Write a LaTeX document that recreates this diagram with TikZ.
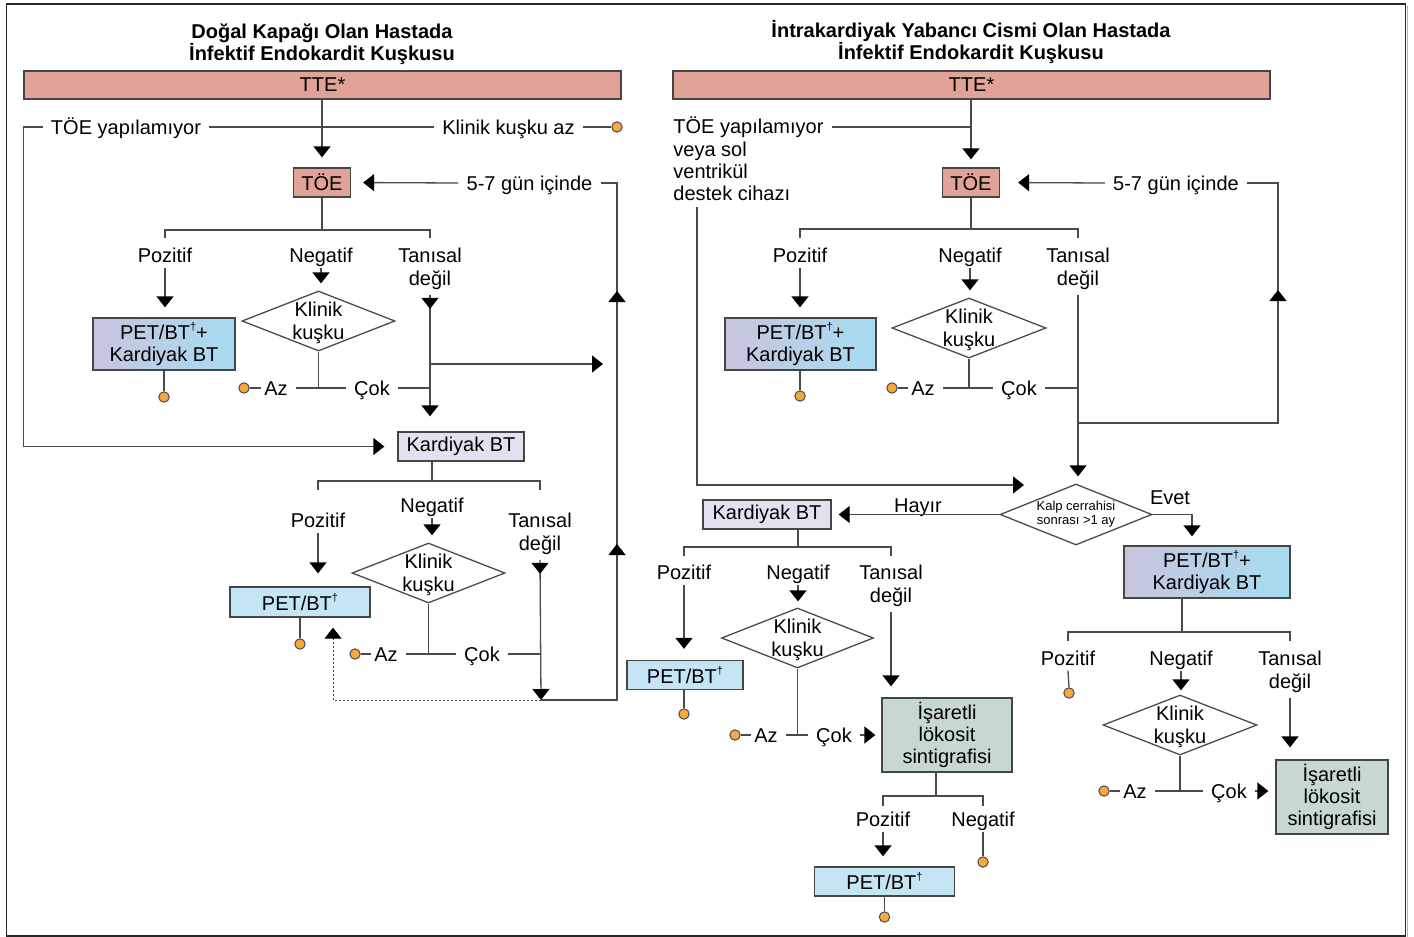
\documentclass[tikz,border=0pt]{standalone}
\usepackage{fontspec}
\setmainfont{Liberation Sans}
\usetikzlibrary{arrows.meta,shapes.geometric,decorations.markings,calc}

\definecolor{salmon}{HTML}{E1A397}
\definecolor{lavg}{HTML}{C8C5DE}
\definecolor{cyang}{HTML}{A6DCF0}
\definecolor{lavl}{HTML}{E5E0F0}
\definecolor{petb}{HTML}{C4E5F4}
\definecolor{sage}{HTML}{C6D8D0}
\definecolor{dotc}{HTML}{F6A83F}
\definecolor{lc}{HTML}{4A4A4A}
\definecolor{bc}{HTML}{454545}

% small raised dagger used in the PET/CT labels
\newcommand{\dagmark}{\raisebox{0.85ex}{\fontsize{5.5}{6}\selectfont †}}

\tikzset{
  ln/.style={draw=lc, line width=0.65pt},
  arr/.style={ln, -{Triangle[width=8.5pt,length=5.5pt,color=black]}},
  darr/.style={draw=lc, line width=0.5pt, dash pattern=on 1pt off 1pt,
    -{Triangle[width=8.5pt,length=5.5pt,color=black]}},
  midarr/.style={postaction={decorate, decoration={markings,
    mark=at position #1 with {\arrow{Triangle[width=8.5pt,length=5.5pt,color=black]}}}}},
  lbl/.style={inner xsep=4pt, inner ysep=2.5pt, text height=7.3pt, text depth=0pt},
  lbl2/.style={inner xsep=4pt, inner ysep=2.5pt, align=center, anchor=north},
  ttl/.style={inner sep=0pt, align=center, anchor=north, font=\fontsize{10}{11}\selectfont\bfseries},
  boxbase/.style={draw=bc, line width=0.65pt, inner sep=0pt, align=center},
  ttebar/.style={boxbase, fill=salmon, minimum width=298.5pt, minimum height=14pt},
  toebox/.style={boxbase, fill=salmon, minimum width=28.5pt, minimum height=14.5pt},
  gradbox/.style={boxbase, left color=lavg, right color=cyang, minimum height=26pt,
    font=\fontsize{10}{11}\selectfont},
  ctbox/.style={boxbase, fill=lavl, minimum height=14.5pt},
  petbox/.style={boxbase, fill=petb, minimum height=14.5pt},
  scintbox/.style={boxbase, fill=sage, minimum height=37pt, font=\fontsize{10}{11}\selectfont},
  dia/.style={diamond, draw=lc, line width=0.65pt, inner sep=0pt,
    minimum width=76.5pt, minimum height=30pt},
  kk/.style={label={[align=center, yshift=-1pt]center:Klinik\\kuşku}},
  odot/.style={circle, draw=lc, fill=dotc, line width=0.5pt, inner sep=0pt, minimum size=5.2pt},
  tolbl/.style={shorten >=-2.5pt},
}

\begin{document}
\begin{tikzpicture}[x=0.5pt,y=-0.5pt,font=\fontsize{10}{11.4}\selectfont]
\useasboundingbox (0,0) rectangle (1414,937);

% outer frame
\draw[black!30, line width=0.8pt] (1407.5,6) -- (1407.5,937.5) -- (8,937.5);
\draw[black!85, line width=0.7pt] (6.5,4) rectangle (1405.5,936);

% ================= left: native valve =================
\node[ttl] (titleL) at (322,23.6) {Doğal Kapağı Olan Hastada\\İnfektif Endokardit Kuşkusu};
\node[ttebar] (tteL) at (322.5,85) {TTE*};
\node[toebox] (toeL) at (322,182.5) {TÖE};

\node[lbl] (noToeL) at (126,127) {TÖE yapılamıyor};
\node[lbl] (lowL) at (508.5,127) {Klinik kuşku az};
\node[odot] (dL1) at (617,127) {};
\node[lbl] (daysL) at (529.5,183) {5-7 gün içinde};

\node[lbl] (posL1) at (165,255) {Pozitif};
\node[lbl] (negL1) at (321,255) {Negatif};
\node[lbl2] (tanL1) at (430,242.6) {Tanısal\\değil};

\node[gradbox, minimum width=71pt] (petkL) at (164,344) {PET/BT\dagmark+\\Kardiyak BT};
\node[odot] (dL2) at (164,397) {};
\node[dia, kk] (diaL1) at (318.5,321) {};
\node[odot] (dAzL1) at (244,388) {};
\node[lbl] (azL1) at (276,388) {Az};
\node[lbl] (cokL1) at (372,388) {Çok};

\node[ctbox, minimum width=63pt] (kbtL) at (461,446.5) {Kardiyak BT};

\node[lbl] (posL2) at (318,520) {Pozitif};
\node[lbl] (negL2) at (432,505) {Negatif};
\node[lbl2] (tanL2) at (540,507.6) {Tanısal\\değil};

\node[petbox, minimum width=70pt, minimum height=15pt] (petL) at (300,602) {PET/BT\dagmark};
\node[odot] (dL3) at (300,644) {};
\node[dia, kk] (diaL2) at (428.5,573) {};
\node[odot] (dAzL2) at (355,654) {};
\node[lbl] (azL2) at (386,654) {Az};
\node[lbl] (cokL2) at (482,654) {Çok};

\coordinate (bL1) at (322,230);
\coordinate (bL2) at (432,481);
\coordinate (rB) at (541,700);
\coordinate (rL) at (617,700);

% TTE -> TOE, and the "TOE not possible" bypass
\draw[arr, shorten >=5pt] (tteL.south -| toeL.north) -- (toeL.north);
\draw[arr, shorten >=6.5pt] (noToeL.west) -- (noToeL.west -| tteL.west) |- (kbtL.west);
\draw[ln] (noToeL.east) -- (lowL.west);
\draw[ln] (lowL.east) -- (dL1.west);
\draw[arr, shorten >=6pt] (daysL.west) -- (toeL.east);

% TOE results
\draw[ln] (toeL.south) -- (bL1);
\draw[ln] ($(posL1 |- bL1)+(0,8)$) -- (posL1 |- bL1) -- (tanL1 |- bL1) -- ++(0,8);
\draw[arr, shorten >=5pt] (posL1.south) -- (posL1.south |- petkL.north);
\draw[ln] (petkL.south) -- (dL2.north);
\draw[arr, shorten >=3.5pt] (negL1.south) -- (negL1.south |- diaL1.north);
\draw[ln] (diaL1.south) -- (diaL1.south |- azL1);
\draw[ln, tolbl] (dAzL1.east) -- (azL1.west);
\draw[ln] (azL1.east) -- (cokL1.west);
\draw[ln] (cokL1.east) -- (cokL1.east -| tanL1);
\draw[arr, shorten >=7.5pt, midarr=7pt] (tanL1.south) -- (tanL1.south |- kbtL.north);
\draw[arr, shorten >=7pt] (tanL1 |- 0,364) -- (rL |- 0,364);

% cardiac CT results
\draw[ln] (kbtL.south -| bL2) -- (bL2);
\draw[ln] ($(posL2 |- bL2)+(0,9)$) -- (posL2 |- bL2) -- (tanL2 |- bL2) -- ++(0,9);
\draw[arr, shorten >=6.5pt] (posL2.south) -- (posL2.south |- petL.north);
\draw[ln] (petL.south) -- (dL3.north);
\draw[arr, shorten >=3.5pt] (negL2.south) -- (negL2.south |- diaL2.north);
\draw[ln] (diaL2.south) -- (diaL2.south |- azL2);
\draw[ln, tolbl] (dAzL2.east) -- (azL2.west);
\draw[ln] (azL2.east) -- (cokL2.west);
\draw[ln] (cokL2.east) -- (cokL2.east -| tanL2);
\draw[arr, midarr=7pt] (tanL2.south) -- (rB);

% repeat loop and PET/CT option
\draw[ln, midarr=116pt, midarr=242.5pt] (rB) -- (rL) -- (rL |- daysL) -- (daysL.east);
\draw[darr, shorten >=5pt] (rB) -| ([xshift=16.5pt]petL.south);

% ================= right: intracardiac device =================
\node[ttl] (titleR) at (971,20.4) {İntrakardiyak Yabancı Cismi Olan Hastada\\İnfektif Endokardit Kuşkusu};
\node[ttebar] (tteR) at (971.5,85) {TTE*};
\node[toebox] (toeR) at (971,182.5) {TÖE};

\node[inner xsep=4pt, inner ysep=2.5pt, align=left, anchor=north west,
  font=\fontsize{10}{11.15}\selectfont] (noToeR) at (665,111.6)
  {TÖE yapılamıyor\\veya sol\\ventrikül\\destek cihazı};
\node[lbl] (daysR) at (1176,183) {5-7 gün içinde};

\node[lbl] (posR1) at (800,255) {Pozitif};
\node[lbl] (negR1) at (970,255) {Negatif};
\node[lbl2] (tanR1) at (1078,242.6) {Tanısal\\değil};

\node[gradbox, minimum width=75.5pt] (petkR) at (800.5,344) {PET/BT\dagmark+\\Kardiyak BT};
\node[odot] (dR1) at (800,396) {};
\node[dia, kk, minimum width=77pt] (diaR1) at (969,328) {};
\node[odot] (dAzR1) at (892,388) {};
\node[lbl] (azR1) at (923,388) {Az};
\node[lbl] (cokR1) at (1019,388) {Çok};

\node[dia, minimum width=76pt, minimum height=30.5pt,
  label={[align=center, font=\fontsize{6.5}{7}\selectfont]center:Kalp cerrahisi\\sonrası >1 ay}]
  (dec) at (1076,514.5) {};
\coordinate (decIn) at (1024,485);
\node[lbl] (hayir) at (918,505) {Hayır};
\node[lbl] (evet) at (1170,497) {Evet};

\node[ctbox, minimum width=64pt] (kbtR) at (767,514.5) {Kardiyak BT};
\node[lbl] (posR2) at (684,572) {Pozitif};
\node[lbl] (negR2) at (798,572) {Negatif};
\node[lbl2] (tanR2) at (891,559.6) {Tanısal\\değil};
\node[petbox, minimum width=58pt] (petR) at (685,675) {PET/BT\dagmark};
\node[odot] (dR2) at (684,714) {};
\node[dia, kk, minimum width=76pt] (diaR3) at (797.5,638) {};
\node[odot] (dAzR2) at (735,735) {};
\node[lbl] (azR2) at (766,735) {Az};
\node[lbl] (cokR2) at (834,735) {Çok};
\node[scintbox, minimum width=65pt] (isaR1) at (947,735) {İşaretli\\lökosit\\sintigrafisi};
\node[lbl] (posR3) at (883,819) {Pozitif};
\node[lbl] (negR3) at (983,819) {Negatif};
\node[odot] (dR3) at (983,862) {};
\node[petbox, minimum width=70pt] (petR2) at (884.5,881.5) {PET/BT\dagmark};
\node[odot] (dR4) at (884.5,917) {};

\node[gradbox, minimum width=83pt] (petkR2) at (1207,572) {PET/BT\dagmark+\\Kardiyak BT};
\node[lbl] (posR4) at (1068,658) {Pozitif};
\node[lbl] (negR4) at (1181,658) {Negatif};
\node[lbl2] (tanR4) at (1290,645.6) {Tanısal\\değil};
\node[odot] (dR5) at (1069,693) {};
\node[dia, kk, minimum width=77pt] (diaR2) at (1180,725) {};
\node[odot] (dAzR4) at (1104,791) {};
\node[lbl] (azR4) at (1135,791) {Az};
\node[lbl] (cokR4) at (1229,791) {Çok};
\node[scintbox, minimum width=56pt] (isaR2) at (1332,797) {İşaretli\\lökosit\\sintigrafisi};

\coordinate (jR) at (971,127);
\coordinate (vR) at (697,207);
\coordinate (bR1) at (971,229);
\coordinate (rR) at (1278,423);
\coordinate (bR2) at (798,547);
\coordinate (bR3) at (936,796);
\coordinate (bR4) at (1182,632);

% TTE -> TOE, bypass to the surgery question
\draw[arr, shorten >=4pt] (tteR.south -| toeR.north) -- (toeR.north);
\draw[ln] (noToeR.north east |- jR) -- (jR);
\draw[arr] (vR) |- (decIn);
\draw[arr, shorten >=9pt] (daysR.west) -- (toeR.east);
\draw[ln, midarr=166.5pt] (tanR1 |- rR) -- (rR) -- (rR |- daysR) -- (daysR.east);

% TOE results
\draw[ln] (toeR.south) -- (bR1);
\draw[ln] ($(posR1 |- bR1)+(0,9)$) -- (posR1 |- bR1) -- (tanR1 |- bR1) -- ++(0,9);
\draw[arr, shorten >=5pt] (posR1.south) -- (posR1.south |- petkR.north);
\draw[ln] (petkR.south -| dR1) -- (dR1.north);
\draw[arr, shorten >=3.5pt] (negR1.south) -- (negR1.south |- diaR1.north);
\draw[ln] (diaR1.south) -- (diaR1.south |- azR1);
\draw[ln, tolbl] (dAzR1.east) -- (azR1.west);
\draw[ln] (azR1.east) -- (cokR1.west);
\draw[ln] (cokR1.east) -- (cokR1.east -| tanR1);
\draw[arr, shorten >=3.5pt] (tanR1.south) -- (tanR1.south |- dec.north);

% surgery question
\draw[arr, shorten >=3.5pt] (dec.west) -- (kbtR.east);
\draw[arr, shorten >=4.5pt] (dec.east) -| ([xshift=-7.5pt]petkR2.north);

% cardiac CT branch
\draw[ln] (kbtR.south -| bR2) -- (bR2);
\draw[ln] ($(posR2 |- bR2)+(0,9)$) -- (posR2 |- bR2) -- (tanR2 |- bR2) -- ++(0,9);
\draw[arr, shorten >=5.5pt] (posR2.south) -- (posR2.south |- petR.north);
\draw[ln] (petR.south -| dR2) -- (dR2.north);
\draw[arr, shorten >=3pt] (negR2.south) -- (negR2.south |- diaR3.north);
\draw[ln] (diaR3.south) -- (diaR3.south |- azR2);
\draw[ln, tolbl] (dAzR2.east) -- (azR2.west);
\draw[ln] (azR2.east) -- (cokR2.west);
\draw[arr, shorten >=3pt] (cokR2.east) -- (cokR2.east -| isaR1.west);
\draw[arr, shorten >=5.5pt] (tanR2.south) -- (tanR2.south |- isaR1.north);
\draw[ln] (isaR1.south -| bR3) -- (bR3);
\draw[ln] ($(posR3 |- bR3)+(0,10)$) -- (posR3 |- bR3) -- (negR3 |- bR3) -- ++(0,10);
\draw[arr, shorten >=5pt] (posR3.south) -- (posR3.south |- petR2.north);
\draw[ln] (negR3.south) -- (dR3.north);
\draw[ln] (petR2.south) -- (dR4.north);

% PET/CT + cardiac CT branch
\draw[ln] (petkR2.south -| bR4) -- (bR4);
\draw[ln] ($(posR4 |- bR4)+(0,9)$) -- (posR4 |- bR4) -- (tanR4 |- bR4) -- ++(0,9);
\draw[ln] (posR4.south) -- (dR5.north);
\draw[arr, shorten >=2pt] (negR4.south) -- (negR4.south |- diaR2.north);
\draw[ln] (diaR2.south) -- (diaR2.south |- azR4);
\draw[ln, tolbl] (dAzR4.east) -- (azR4.west);
\draw[ln] (azR4.east) -- (cokR4.west);
\draw[arr, shorten >=3.5pt] (cokR4.east) -- (cokR4.east -| isaR2.west);
\draw[arr, shorten >=6pt] (tanR4.south) -- (tanR4.south |- isaR2.north);
\end{tikzpicture}
\end{document}
